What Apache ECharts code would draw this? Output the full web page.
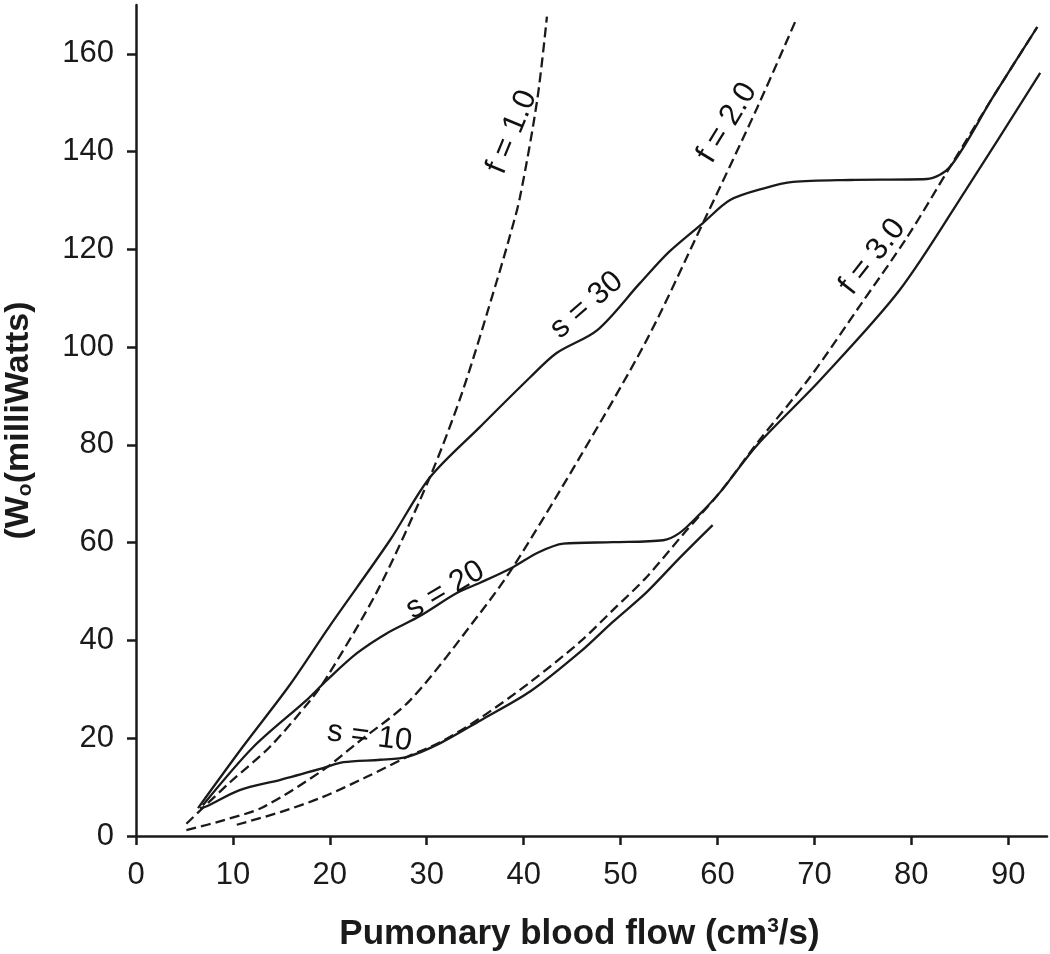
<!DOCTYPE html>
<html><head><meta charset="utf-8">
<script src="https://cdn.jsdelivr.net/npm/echarts@6/dist/echarts.min.js"></script>
<style>html,body{margin:0;padding:0;background:#fff}#c{width:1050px;height:954px}</style>
</head><body><div id="c"></div>
<script>
// Dashed iso-f curves [flow, power]
const f1 = [[5.2,2.5],[9.7,11.0],[13.8,18.2],[18.0,27.8],[19.7,32.5],[25.0,50.5],[30.3,73.3],[33.7,91.0],[37.3,114.0],[38.4,121.5],[39.6,130.5],[41.4,150.6],[42.4,167.6]];
const f2 = [[5.2,1.2],[9.0,3.2],[13.1,5.9],[19.3,13.5],[22.8,19.0],[28.3,27.8],[35.5,45.6],[38.9,55.0],[45.8,77.5],[52.7,101.5],[58.5,125.4],[64.1,149.0],[68.0,166.5]];
const f3 = [[10.4,2.3],[14.9,4.9],[19.3,8.0],[23.6,11.9],[28.0,16.2],[31.4,19.2],[35.5,24.1],[40.7,31.5],[45.8,39.7],[49.2,46.2],[52.7,53.0],[56.4,61.6],[60.3,70.4],[64.1,80.4],[69.6,94.0],[74.7,108.5],[79.6,122.6],[84.0,136.9],[88.4,151.1],[93.0,165.5]];
// Solid iso-s curves
const s10 = [[6.6,5.7],[7.3,6.1],[10.7,9.4],[14.9,11.5],[19.3,13.9],[21.4,15.1],[25.2,15.6],[28.0,16.2],[31.4,19.0],[35.5,23.6],[40.7,29.6],[45.8,37.6],[49.2,43.8],[52.7,49.9],[56.1,56.9],[59.5,63.6]];
const s20 = [[6.9,6.3],[12.1,18.2],[17.6,27.8],[19.7,31.9],[22.8,37.4],[25.9,41.5],[29.3,45.0],[33.1,49.7],[35.5,51.8],[38.9,55.0],[41.5,58.0],[44.1,59.8],[49.2,60.1],[54.4,60.5],[56.1,62.0],[58.0,65.5],[60.3,70.4],[64.1,80.0],[70.6,93.3],[78.8,111.7],[85.6,132.1],[93.3,156.1]];
const s30 = [[6.4,5.7],[11.0,18.2],[15.9,31.0],[20.0,43.0],[26.2,60.5],[30.3,73.3],[35.5,83.7],[40.7,93.9],[43.4,98.8],[47.6,103.5],[52.0,113.1],[55.0,119.5],[58.5,125.4],[61.3,130.1],[64.8,132.5],[67.8,133.8],[73.7,134.2],[81.6,134.4],[84.0,136.9],[88.4,151.1],[93.0,165.5]];
// Tick values
const xTicks = [0,10,20,30,40,50,60,70,80,90];
const yTicks = [0,20,40,60,80,100,120,140,160];
// Curve labels: [text, flow, power, angle]
const curveLabels = [
  ['f = 1.0', 38.8, 144.0, 67.6],
  ['f = 2.0', 61.0, 145.9, 58.6],
  ['f = 3.0', 76.0, 118.5, 51.8],
  ['s = 30', 46.5, 108.6, 41],
  ['s = 20', 31.9, 50.3, 30.5],
  ['s = 10', 24.1, 20.3, -7]
];
const xName = 'Pumonary blood flow (cm{sup|3}/s)';
const yName = '(W{sub|o}(milliWatts)';

const INK = '#1a1a1a';
const FONT = "'Liberation Sans', Arial, Helvetica, sans-serif";
function dashed(name, data){
  return {name, type:'line', data, showSymbol:false, smooth:0.3, silent:true,
    lineStyle:{color:INK, width:2.3, type:[10,5]}, z:2};
}
function solid(name, data){
  return {name, type:'line', data, showSymbol:false, smooth:0.3, silent:true,
    lineStyle:{color:INK, width:2.3}, z:3};
}
const labelSeries = {
  type:'scatter', data: curveLabels.map(l => ({value:[l[1], l[2]], name:l[0],
    label:{show:true, position:'inside', rotate:l[3], formatter:l[0], color:'#111', opacity:1,
      textBorderWidth:0, fontSize:31, fontFamily:FONT}})),
  symbolSize:1, itemStyle:{color:'rgba(255,255,255,0)'}, silent:true, z:5
};
const chart = echarts.init(document.getElementById('c'), null, {renderer:'canvas'});
chart.setOption({
  animation:false,
  backgroundColor:'#fff',
  grid:{left:136, right:3, top:5, bottom:118, containLabel:false, outerBoundsMode:'none'},
  xAxis:{type:'value', min:0, max:94, interval:10,
    name:xName, nameLocation:'middle', nameGap:80,
    nameTextStyle:{color:INK, fontSize:35, fontWeight:'bold', fontFamily:FONT, padding:[0,24,0,0],
      rich:{sup:{fontSize:21, fontWeight:'bold', verticalAlign:'top', padding:[0,0,16,0], fontFamily:FONT, color:INK}}},
    axisLine:{show:true, lineStyle:{color:INK, width:2.5}},
    axisTick:{show:true, length:9, customValues:xTicks, lineStyle:{color:INK, width:2.5}},
    axisLabel:{color:INK, fontSize:31, fontFamily:FONT, margin:24, customValues:xTicks},
    splitLine:{show:false}},
  yAxis:{type:'value', min:0, max:170, interval:20,
    name:yName, nameLocation:'middle', nameGap:100, nameRotate:90,
    nameTextStyle:{color:INK, fontSize:34, fontWeight:'bold', fontFamily:FONT,
      rich:{sub:{fontSize:21, fontWeight:'bold', verticalAlign:'bottom', padding:[14,0,0,0], fontFamily:FONT, color:INK}}},
    axisLine:{show:true, lineStyle:{color:INK, width:2.5}},
    axisTick:{show:true, length:9, customValues:yTicks, lineStyle:{color:INK, width:2.5}},
    axisLabel:{color:INK, fontSize:31, fontFamily:FONT, margin:22, customValues:yTicks},
    splitLine:{show:false}},
  series:[dashed('f = 1.0', f1), dashed('f = 2.0', f2), dashed('f = 3.0', f3),
    solid('s = 10', s10), solid('s = 20', s20), solid('s = 30', s30), labelSeries]
});
</script></body></html>
